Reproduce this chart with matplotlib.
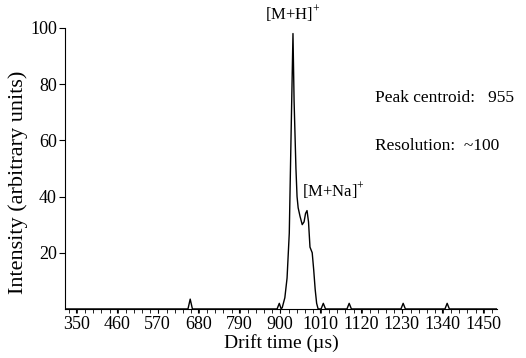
import matplotlib.pyplot as plt
from matplotlib.ticker import MultipleLocator

plt.rcParams['font.family'] = ['Liberation Serif', 'DejaVu Serif']
plt.rcParams['mathtext.fontset'] = 'custom'
plt.rcParams['mathtext.rm'] = 'Liberation Serif'

# drift time (us) and intensity
drift_time = [320, 652, 658, 664, 893, 899, 904, 907, 914, 920, 926, 931, 936,
              939, 944, 947, 950, 955, 961, 966, 970, 974, 978, 982, 988, 992,
              996, 1000, 1004, 1012, 1018, 1024, 1082, 1088, 1094, 1228, 1234,
              1240, 1347, 1353, 1359, 1488]
intensity = [0, 0, 3.5, 0, 0, 2.0, 0, 0.5, 4, 11, 27, 63, 98,
             74, 50, 40, 36, 33, 30, 31, 34, 35, 31, 22, 20, 14,
             7, 2, 0, 0, 2.0, 0, 0, 2.0, 0, 0, 2.0,
             0, 0, 2.0, 0, 0]

x_ticks = [350, 460, 570, 680, 790, 900, 1010, 1120, 1230, 1340, 1450]
y_ticks = [20, 40, 60, 80, 100]

fig = plt.figure(figsize=(5.26, 3.58), dpi=100)
ax = fig.add_axes([0.124, 0.137, 0.821, 0.785])

ax.plot(drift_time, intensity, color='black', lw=1.0)

ax.set_xlim(320, 1488)
ax.set_ylim(0, 100)
ax.set_xticks(x_ticks)
ax.xaxis.set_minor_locator(MultipleLocator(22))
ax.set_yticks(y_ticks)
ax.tick_params(axis='both', direction='out', labelsize=13, width=0.8, pad=2)
ax.tick_params(axis='x', which='major', length=3)
ax.tick_params(axis='x', which='minor', length=3, width=0.6)
ax.tick_params(axis='y', length=4)
for side in ('top', 'right'):
    ax.spines[side].set_visible(False)

ax.set_xlabel('Drift time (\u00b5s)', fontsize=14, labelpad=1)
ax.set_ylabel('Intensity (arbitrary units)', fontsize=16)
ax.yaxis.set_label_coords(-0.086, 0.45)

ax.text(936, 101, '[M+H]$^{+}$', fontsize=12, ha='center', va='bottom', clip_on=False)
ax.text(961, 42, '[M+Na]$^{+}$', fontsize=12, ha='left', va='center')
ax.text(1158, 75, 'Peak centroid:   955', fontsize=12.5, ha='left', va='center')
ax.text(1158, 58, 'Resolution:  ~100', fontsize=12.5, ha='left', va='center')

fig.savefig('out.png', dpi=100)
